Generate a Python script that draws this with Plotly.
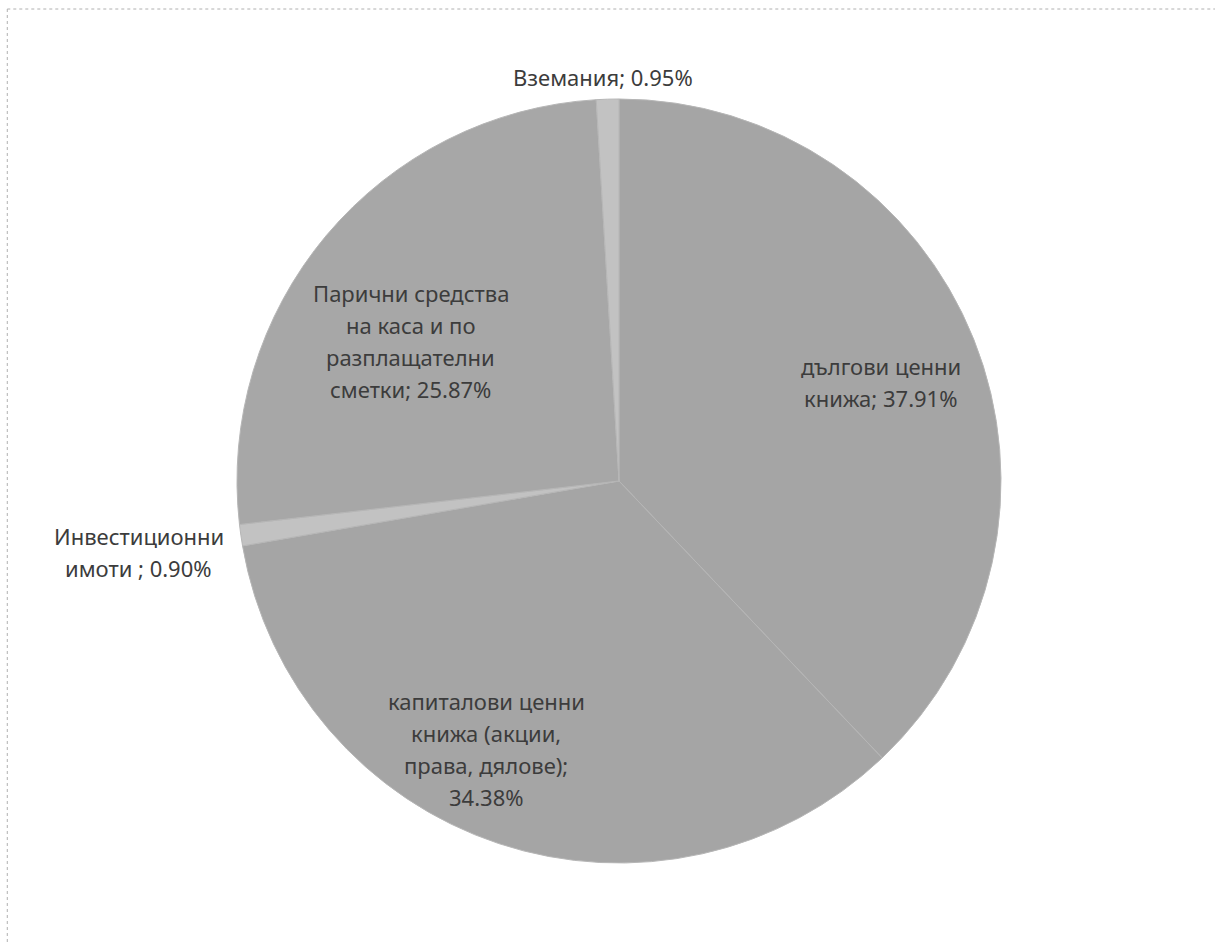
import textwrap
import plotly.graph_objects as go

# Portfolio structure by asset type (share of total, %)
categories = [
    "дългови ценни книжа",
    "капиталови ценни книжа (акции, права, дялове)",
    "Инвестиционни имоти ",
    "Парични средства на каса и по разплащателни сметки",
    "Вземания",
]
shares = [37.91, 34.38, 0.90, 25.87, 0.95]

# Wrap width (characters) for each data label
wrap_widths = [14, 16, 14, 17, 40]
# Label block centres in paper coordinates
label_x = [0.725, 0.400, 0.114, 0.338, 0.496]
label_y = [0.5945, 0.205, 0.4145, 0.638, 0.9183]

slice_colors = ["#a5a5a5", "#a5a5a5", "#c2c2c2", "#a7a7a7", "#c2c2c2"]

W, H = 1215, 942
cx, cy, r = 619, 481, 382

fig = go.Figure(
    go.Pie(
        labels=categories,
        values=shares,
        sort=False,
        direction="clockwise",
        rotation=0,
        textinfo="none",
        hoverinfo="label+percent",
        marker=dict(colors=slice_colors, line=dict(color="#b6b6b6", width=1)),
        domain=dict(x=[(cx - r) / W, (cx + r) / W], y=[1 - (cy + r) / H, 1 - (cy - r) / H]),
        showlegend=False,
    )
)

line_gap = 32 / H
annotations = []
for name, val, w, x0, y0 in zip(categories, shares, wrap_widths, label_x, label_y):
    lines = textwrap.wrap(f"{name}; {val:.2f}%", width=w)
    n = len(lines)
    for i, ln in enumerate(lines):
        annotations.append(
            dict(
                x=x0,
                y=y0 - (i - (n - 1) / 2) * line_gap,
                xref="paper",
                yref="paper",
                text=ln,
                showarrow=False,
                xanchor="center",
                yanchor="middle",
                font=dict(family="Noto Sans, Open Sans, sans-serif", size=22, color="#3c3c3c"),
            )
        )

fig.update_layout(
    width=W,
    height=H,
    margin=dict(l=0, r=0, t=0, b=0),
    paper_bgcolor="white",
    plot_bgcolor="white",
    annotations=annotations,
    shapes=[
        dict(type="line", xref="paper", yref="paper", x0=0.006, x1=1, y0=1 - 9 / H, y1=1 - 9 / H,
             line=dict(color="#b0b0b0", width=1, dash="dot")),
        dict(type="line", xref="paper", yref="paper", x0=0.006, x1=0.006, y0=0, y1=1 - 9 / H,
             line=dict(color="#b0b0b0", width=1, dash="dot")),
    ],
)

fig.write_html("out.html")
